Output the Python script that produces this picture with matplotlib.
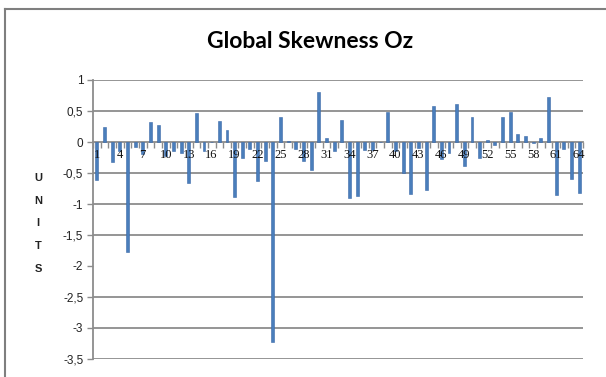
import numpy as np
import matplotlib
matplotlib.use("Agg")
import matplotlib.pyplot as plt
from matplotlib.lines import Line2D

# skewness per unit, units 1..64
units = list(range(1, 65))
skewness = [
    -0.61, 0.25, -0.32, -0.15, -1.78, -0.08, -0.20, 0.32, 0.28, -0.23,
    -0.15, -0.18, -0.66, 0.46, -0.14, 0.00, 0.34, 0.20, -0.89, -0.25,
    -0.12, -0.63, -0.30, -3.22, 0.40, 0.02, -0.12, -0.30, -0.45, 0.80,
    0.07, -0.15, 0.35, -0.91, -0.87, -0.13, -0.13, 0.00, 0.48, -0.15,
    -0.50, -0.84, -0.10, -0.77, 0.58, -0.27, -0.17, 0.61, -0.39, 0.40,
    -0.25, 0.04, -0.05, 0.40, 0.48, 0.13, 0.10, -0.02, 0.06, 0.72,
    -0.85, -0.12, -0.60, -0.83,
]
y_ticks = [1, 0.5, 0, -0.5, -1, -1.5, -2, -2.5, -3, -3.5]
y_tick_labels = ["1", "0,5", "0", "-0,5", "-1", "-1,5", "-2", "-2,5", "-3", "-3,5"]
grid_levels = [1, 0.5, -0.5, -1, -1.5, -2.5, -3, -3.5]
x_label_units = units[::3]

W, H = 606, 377
fig = plt.figure(figsize=(W / 100, H / 100), dpi=100)
ax = fig.add_axes([93 / W, 1 - 359 / H, (583 - 93) / W, (359 - 80) / H])

grid_col = "#8c8c8c"
for g in grid_levels:
    ax.axhline(g, color=grid_col, lw=1.3, zorder=1)

ax.bar(units, skewness, width=0.38, color="#4a7ebb", edgecolor="#3a69a8",
       linewidth=0.4, zorder=3)

ax.set_xlim(0.5, 64.5)
ax.set_ylim(-3.5, 1)

for s in ["top", "right"]:
    ax.spines[s].set_visible(False)
ax.spines["left"].set_color(grid_col)
ax.spines["left"].set_linewidth(1.3)
ax.spines["bottom"].set_position(("data", 0))
ax.spines["bottom"].set_color(grid_col)
ax.spines["bottom"].set_linewidth(1.3)
ax.spines["bottom"].set_zorder(2)

ax.set_yticks(y_ticks)
ax.set_yticklabels(y_tick_labels, fontsize=8.5, color="#222222",
                   family="Liberation Sans")
ax.tick_params(axis="y", direction="out", length=4, width=1, color=grid_col, pad=3)

ax.set_xticks(x_label_units)
ax.set_xticklabels([str(u) for u in x_label_units], fontsize=9,
                   family="Liberation Serif", color="#111111")
ax.set_xticks(np.arange(0.5, 65, 1), minor=True)
ax.tick_params(axis="x", which="major", length=0, pad=5)
ax.tick_params(axis="x", which="minor", direction="out", length=4,
               width=1, color=grid_col)
# category labels sit on top of the bars
ax.xaxis.set_zorder(4)

fig.text(310 / W, 1 - 41 / H, "Global Skewness Oz", ha="center", va="center",
         fontsize=16.5, fontweight="bold", family="Lato")

for k, ch in enumerate("UNITS"):
    fig.text(38 / W, 1 - (178 + k * 22.7) / H, ch, ha="center", va="center",
             fontsize=8, fontweight="bold", color="#222222", family="Liberation Sans")

# chart area frame (top and left edges)
fig.add_artist(Line2D([5 / W, 1], [1 - 9 / H, 1 - 9 / H], transform=fig.transFigure,
                      color="#7f7f7f", lw=1.5))
fig.add_artist(Line2D([5 / W, 5 / W], [0, 1 - 9 / H], transform=fig.transFigure,
                      color="#7f7f7f", lw=1.5))

fig.savefig("out.png", dpi=100)
